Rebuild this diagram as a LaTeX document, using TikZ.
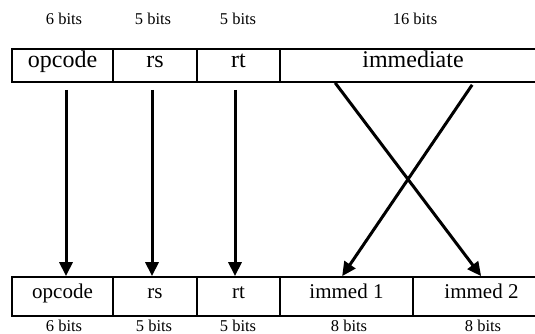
\documentclass[tikz,border=0pt]{standalone}
\usepackage{fontspec}
\setmainfont{Liberation Serif}
\usetikzlibrary{arrows.meta,calc}
\begin{document}
\begin{tikzpicture}[x=1pt,y=-1pt,
  fieldA/.style={draw, line width=1.7pt, inner sep=0pt, minimum height=33pt,
    text height=0.68em, text depth=0.22em, font=\fontsize{24}{26}\selectfont},
  fieldB/.style={draw, line width=1.7pt, inner sep=0pt, minimum height=39pt,
    text height=0.68em, text depth=0.22em, font=\fontsize{21}{23}\selectfont},
  bits/.style={inner sep=0pt, text height=0.68em, text depth=0.22em, font=\fontsize{16.5}{18}\selectfont},
  mover/.style={line width=3pt, -{Triangle[length=14pt,width=13pt]}}]
\useasboundingbox (0,0) rectangle (535,334);
% top format
\node[fieldA, minimum width=101pt] (op1) at (62.5,65.5) {opcode};
\node[fieldA, minimum width=84pt]  (rs1) at (155,65.5) {rs};
\node[fieldA, minimum width=83pt]  (rt1) at (238.5,65.5) {rt};
\node[fieldA, minimum width=266pt] (im1) at (413,65.5) {immediate};
% bottom format
\node[fieldB, minimum width=101pt] (op2) at (62.5,296.5) {opcode};
\node[fieldB, minimum width=84pt]  (rs2) at (155,296.5) {rs};
\node[fieldB, minimum width=83pt]  (rt2) at (238.5,296.5) {rt};
\node[fieldB, minimum width=133pt] (ima) at (346.5,296.5) {immed 1};
\node[fieldB, minimum width=137pt] (imb) at (481.5,296.5) {immed 2};
% bit labels
\node[bits] (t1) at (64,22) {6 bits};
\node[bits] (t2) at (153,22) {5 bits};
\node[bits] (t3) at (238,22) {5 bits};
\node[bits] (t4) at (415,22) {16 bits};
\node[bits] (u1) at (64,329) {6 bits};
\node[bits] (u2) at (154,329) {5 bits};
\node[bits] (u3) at (238,329) {5 bits};
\node[bits] (u4) at (349,329) {8 bits};
\node[bits] (u5) at (483,329) {8 bits};
% arrows
\draw[mover] ($(op1.south)+(3.5,7)$) -- ($(op2.north)+(3.5,0)$);
\draw[mover] ($(rs1.south)+(-3,7)$) -- ($(rs2.north)+(-3,0)$);
\draw[mover] ($(rt1.south)+(-3.5,7)$) -- ($(rt2.north)+(-3.5,0)$);
\draw[mover] ($(im1.south west)+(56,0)$) -- ($(imb.north west)+(69,0)$);
\draw[mover] ($(im1.south west)+(193,2)$) -- ($(ima.north west)+(63,0)$);
\end{tikzpicture}
\end{document}
